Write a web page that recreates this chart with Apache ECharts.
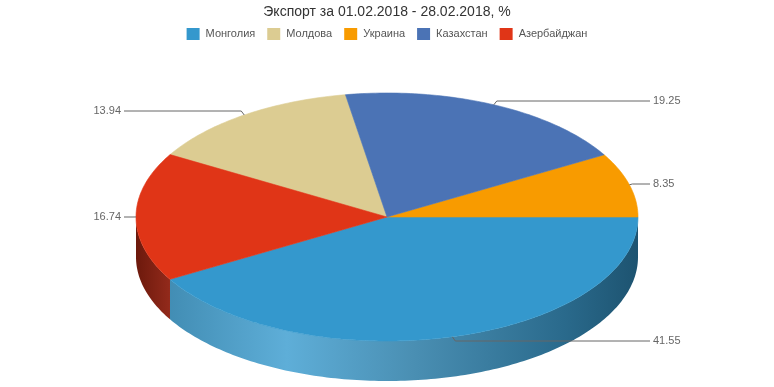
<!DOCTYPE html>
<html><head><meta charset="utf-8">
<script src="https://cdn.jsdelivr.net/npm/echarts@6/dist/echarts.min.js"></script>
<style>html,body{margin:0;padding:0;background:#fff}#c{width:774px;height:387px}</style>
</head><body><div id="c"></div>
<script>
var categories = ['Монголия', 'Молдова', 'Украина', 'Казахстан', 'Азербайджан'];
var values = [41.55, 13.94, 8.35, 19.25, 16.74];
// drawing order around the pie (clockwise from 3 o'clock)
var order = ['Монголия', 'Азербайджан', 'Молдова', 'Казахстан', 'Украина'];
var colors = {
  'Монголия': '#3498cd',
  'Молдова': '#dccc92',
  'Украина': '#f89b00',
  'Казахстан': '#4b73b5',
  'Азербайджан': '#e03517'
};
var sideColors = {
  'Монголия': [[0, '#3a84aa'], [0.3, '#5eaed8'], [0.55, '#4a8fb3'], [0.85, '#2a6a8c'], [1, '#1d5370']],
  'Азербайджан': [[0, '#6c190c'], [1, '#952b1c']]
};
var labelY = {'Монголия': 341, 'Молдова': 111, 'Украина': 184, 'Казахстан': 101, 'Азербайджан': 217};
var title = 'Экспорт за 01.02.2018 - 28.02.2018, %';

var total = values.reduce(function (a, b) { return a + b; }, 0);
var cum = {}; var acc = 0;
order.forEach(function (n) {
  var v = values[categories.indexOf(n)];
  cum[n] = [acc / total * 360, (acc + v) / total * 360];
  acc += v;
});

var CX = 387, CY = 217, RX = 251, RY = 124, DEPTH = 40;
function pt(a, dy) {
  var r = a * Math.PI / 180;
  return [CX + RX * Math.cos(r), CY + RY * Math.sin(r) + (dy || 0)];
}
function arc(a0, a1, dy) {
  var pts = [], n = Math.max(2, Math.ceil(Math.abs(a1 - a0)));
  for (var i = 0; i <= n; i++) pts.push(pt(a0 + (a1 - a0) * i / n, dy));
  return pts;
}

function makeRender(name) {
  return function (params, api) {
    var v = api.value(0);
    var a = cum[name][0], b = cum[name][1];
    var children = [];
    var col = colors[name];
    var s0 = Math.max(a, 0), s1 = Math.min(b, 180);
    if (s1 > s0) {
      var top = arc(s0, s1, 0), bot = arc(s1, s0, DEPTH);
      var stops = sideColors[name] || [[0, col], [1, col]];
      children.push({
        type: 'polygon', z2: 1,
        shape: { points: top.concat(bot) },
        style: {
          fill: { type: 'linear', x: 136, y: 0, x2: name === 'Азербайджан' ? 172 : 639, y2: 0, global: true,
            colorStops: stops.map(function (s) { return { offset: s[0], color: s[1] }; }) },
          stroke: null
        }
      });
    }
    children.push({
      type: 'polygon', z2: 5,
      shape: { points: [[CX, CY]].concat(arc(a, b, 0)) },
      style: { fill: col, stroke: col, lineWidth: 0.6 }
    });
    var m = (a + b) / 2;
    var e = pt(m, 0);
    var ly = labelY[name];
    var right = Math.cos(m * Math.PI / 180) >= 0;
    var endX = right ? 650 : 124;
    var kx = e[0] + (right ? 3 : -3);
    children.push({
      type: 'polyline', z2: 10,
      shape: { points: [e, [kx, ly], [endX, ly]] },
      style: { stroke: '#666', lineWidth: 1, fill: null }
    });
    children.push({
      type: 'text', z2: 10,
      style: {
        x: right ? endX + 3 : endX - 3, y: ly,
        text: v.toFixed(2),
        fill: '#666', font: '11px "Liberation Sans", Arial, sans-serif',
        align: right ? 'left' : 'right', verticalAlign: 'middle'
      }
    });
    return { type: 'group', children: children };
  };
}

var series = categories.map(function (n, i) {
  return {
    type: 'custom', name: n, coordinateSystem: 'none',
    itemStyle: { color: colors[n] },
    renderItem: makeRender(n),
    data: [[values[i]]],
    animation: false, silent: true
  };
});

var chart = echarts.init(document.getElementById('c'), null, { renderer: 'canvas' });
chart.setOption({
  animation: false,
  title: {
    text: title, left: 'center', top: 0,
    textStyle: { fontSize: 14, fontWeight: 'normal', color: '#333', fontFamily: 'Liberation Sans, Arial, sans-serif' }
  },
  legend: {
    data: categories, top: 23, left: 'center',
    icon: 'rect', itemWidth: 13, itemHeight: 12, itemGap: 12,
    textStyle: { fontSize: 11, color: '#555', fontFamily: 'Liberation Sans, Arial, sans-serif', padding: [0, 0, 0, 1] },
    selectedMode: false
  },
  series: series
});
</script></body></html>
